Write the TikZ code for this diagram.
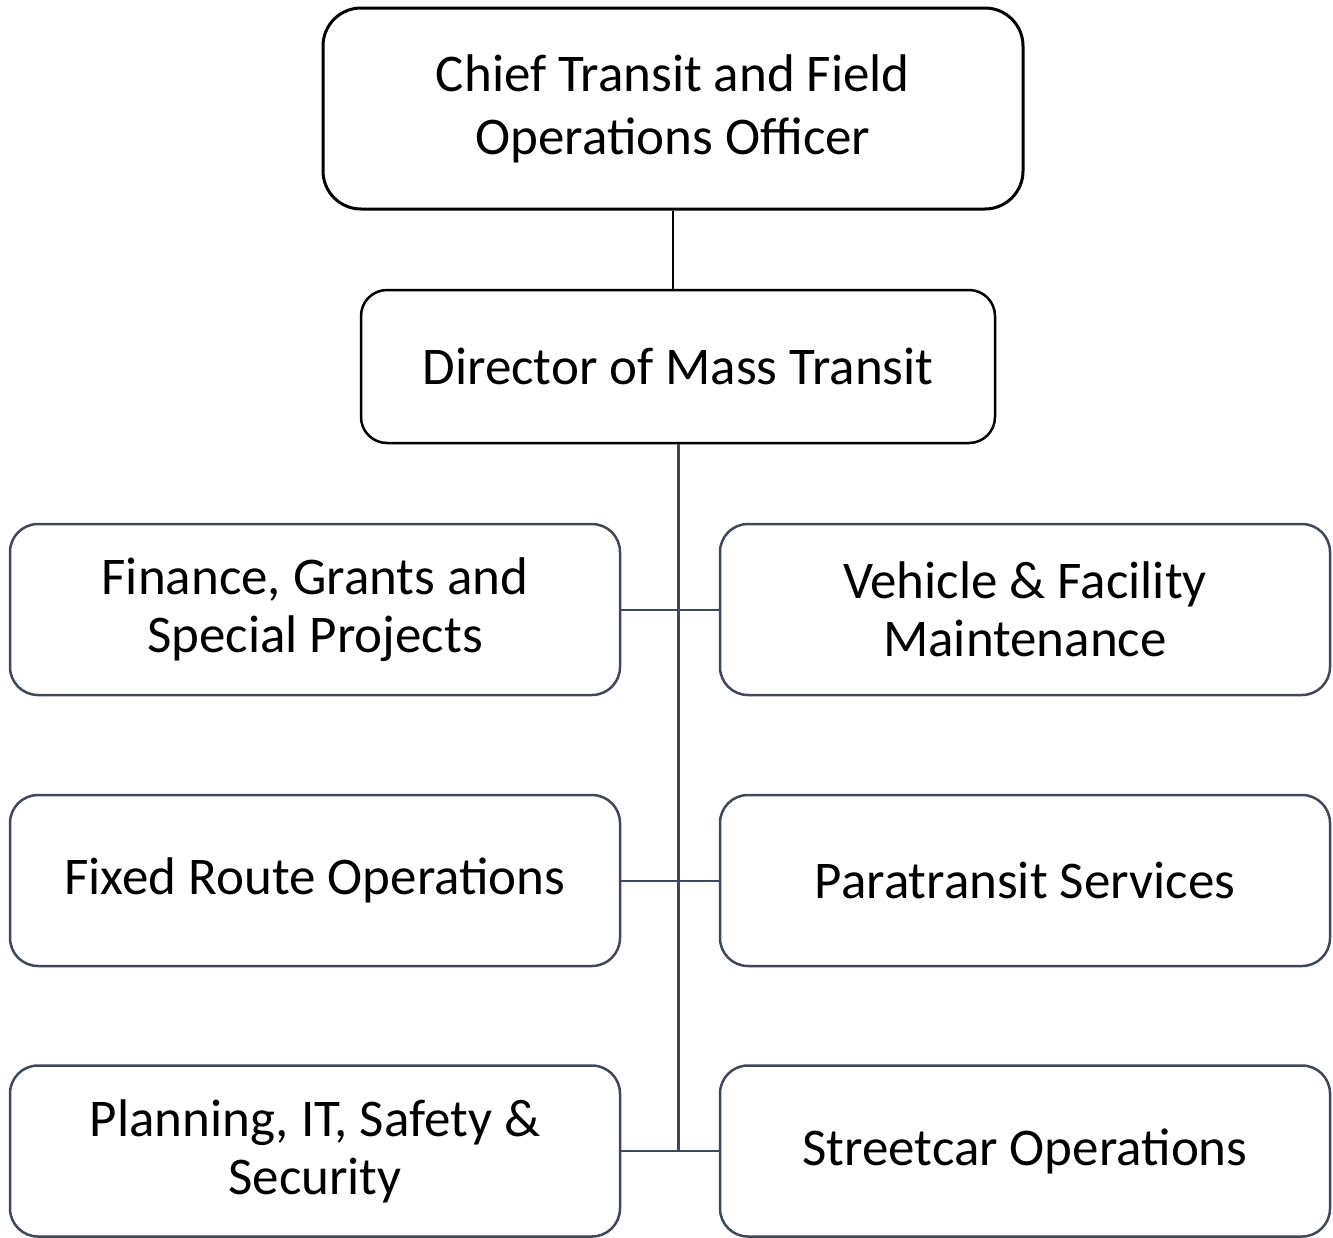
\documentclass[tikz,border=0pt]{standalone}
\usepackage{fontspec}
\setmainfont{Carlito}
\usepackage{xcolor}
\usepackage{tikz}
\usetikzlibrary{positioning}
\definecolor{unitedge}{RGB}{62,72,88}
\tikzset{
  headbox/.style={draw=black,line width=3pt,rounded corners=38pt,align=center,
    minimum width=700pt,minimum height=201pt,inner sep=0pt,
    font=\fontsize{53}{63}\selectfont},
  dirbox/.style={draw=black,line width=2.5pt,rounded corners=26pt,align=center,
    minimum width=634pt,minimum height=153pt,inner sep=0pt,
    font=\fontsize{53}{58}\selectfont},
  unitbox/.style={draw=unitedge,line width=2.5pt,rounded corners=28pt,align=center,
    minimum width=610pt,minimum height=171pt,inner sep=0pt,
    font=\fontsize{53}{58}\selectfont},
  trunk/.style={draw=unitedge,line width=3pt},
  branch/.style={draw=unitedge,line width=2pt}
}

\begin{document}
\begin{tikzpicture}[x=1pt,y=-1pt]
  \useasboundingbox (0,0) rectangle (1333,1237);
  % top of the chart
  \node[headbox] (chief) at (673,108.5) {Chief Transit and Field\\Operations Officer};
  \node[dirbox] (dir) at (678,366.5) {Director of Mass Transit};
  % units
  \node[unitbox] (fin)    at (315,609.5)  {Finance, Grants and\\Special Projects};
  \node[unitbox] (veh)    at (1025,609.5) {Vehicle \& Facility\\Maintenance};
  \node[unitbox] (fix)    at (315,880.5)  {Fixed Route Operations};
  \node[unitbox] (para)   at (1025,880.5) {Paratransit Services};
  \node[unitbox] (plan)   at (315,1151)   {Planning, IT, Safety \&\\Security};
  \node[unitbox] (street) at (1025,1151)  {Streetcar Operations};
  % connectors
  \draw[line width=1.5pt] (chief.south) -- (dir.north -| chief.south);
  \coordinate (trunkend) at (dir.south |- plan.east);
  \draw[trunk] (dir.south) -- (trunkend);
  \draw[branch] (fin.east) -- (veh.west);
  \draw[branch] (fix.east) -- (para.west);
  \draw[branch] (plan.east) -- (street.west);
\end{tikzpicture}
\end{document}
